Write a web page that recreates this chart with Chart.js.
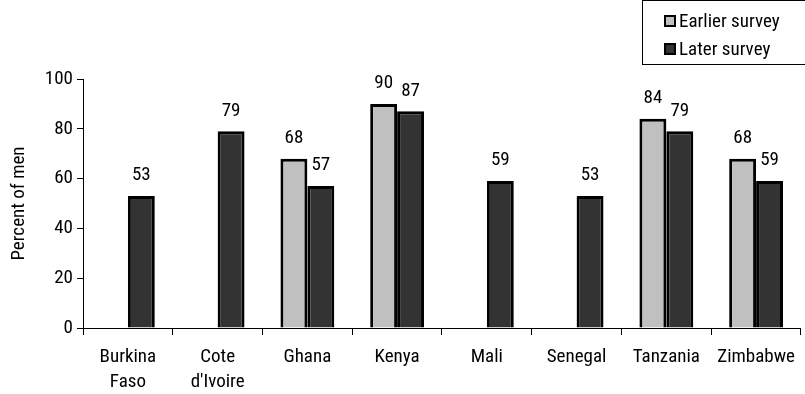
<!DOCTYPE html>
<html>
<head>
<meta charset="utf-8">
<script src="https://cdn.jsdelivr.net/npm/chart.js@4.4.1/dist/chart.umd.min.js"></script>
<style>
  html, body { margin: 0; padding: 0; background: #fff; }
  #wrap { position: relative; width: 805px; height: 394px; }
</style>
</head>
<body>
<div id="wrap"><canvas id="c" width="805" height="394"></canvas></div>
<script>
const categories = [["Burkina", "Faso"], ["Cote", "d'Ivoire"], "Ghana", "Kenya", "Mali", "Senegal", "Tanzania", "Zimbabwe"];
const earlierSurvey = [null, null, 68, 90, null, null, 84, 68];
const laterSurvey = [53, 79, 57, 87, 59, 53, 79, 59];
const seriesNames = ["Earlier survey", "Later survey"];
const yTicks = [0, 20, 40, 60, 80, 100];

const FONT = "'Liberation Sans Narrow', 'Arial Narrow', 'Roboto Condensed', 'Liberation Sans', sans-serif";
const FS = 19;
const LIGHT = '#c0c0c0';
const DARK = '#333333';

const valueLabels = {
  id: 'valueLabels',
  afterDatasetsDraw(chart) {
    const ctx = chart.ctx;
    ctx.save();
    ctx.font = FS + 'px ' + FONT;
    ctx.fillStyle = '#000';
    ctx.textAlign = 'center';
    ctx.textBaseline = 'bottom';
    chart.data.datasets.forEach((ds, i) => {
      const meta = chart.getDatasetMeta(i);
      meta.data.forEach((bar, j) => {
        const v = ds.data[j];
        if (v === null || v === undefined) return;
        ctx.fillText(String(v), bar.x, bar.y - 11);
      });
    });
    ctx.restore();
  }
};

const boxLegend = {
  id: 'boxLegend',
  afterDraw(chart) {
    const ctx = chart.ctx;
    ctx.save();
    ctx.strokeStyle = '#000';
    ctx.lineWidth = 1;
    ctx.fillStyle = '#fff';
    ctx.fillRect(642.5, 0.5, 170, 64);
    ctx.strokeRect(642.5, 0.5, 170, 64);
    ctx.font = FS + 'px ' + FONT;
    ctx.textAlign = 'left';
    ctx.textBaseline = 'middle';
    const rows = [21, 49];
    chart.data.datasets.forEach((ds, i) => {
      const y = rows[i];
      ctx.fillStyle = ds.backgroundColor;
      ctx.fillRect(665, y - 5, 10, 10);
      ctx.lineWidth = 2;
      ctx.strokeStyle = '#000';
      ctx.strokeRect(665, y - 5, 10, 10);
      ctx.fillStyle = '#000';
      ctx.fillText(ds.label, 679, y + 1);
    });
    ctx.restore();
  }
};

new Chart(document.getElementById('c'), {
  type: 'bar',
  data: {
    labels: categories,
    datasets: [
      { label: seriesNames[0], data: earlierSurvey, backgroundColor: LIGHT, borderColor: '#000', borderWidth: 3 },
      { label: seriesNames[1], data: laterSurvey, backgroundColor: DARK, borderColor: '#000', borderWidth: 3 }
    ]
  },
  options: {
    responsive: false,
    animation: false,
    devicePixelRatio: 1,
    layout: { padding: { top: 79, left: 0, right: 1, bottom: 0 } },
    datasets: { bar: { barPercentage: 1.0, categoryPercentage: 0.6 } },
    plugins: {
      legend: { display: false },
      title: { display: false },
      tooltip: { enabled: false }
    },
    scales: {
      x: {
        grid: { display: true, offset: true, drawOnChartArea: false, drawTicks: true, tickLength: 7, color: '#000', lineWidth: 1 },
        border: { display: true, color: '#000', width: 1 },
        ticks: { color: '#000', font: { family: FONT, size: FS, lineHeight: 1.3 }, padding: 10, maxRotation: 0, autoSkip: false },
        afterFit(scale) { scale.height = 66; }
      },
      y: {
        min: 0,
        max: 100,
        afterBuildTicks(scale) { scale.ticks = yTicks.map(v => ({ value: v })); },
        grid: { display: true, drawOnChartArea: false, drawTicks: true, tickLength: 6, color: '#000', lineWidth: 1 },
        border: { display: true, color: '#000', width: 1 },
        ticks: { color: '#000', font: { family: FONT, size: FS }, padding: 4 },
        title: { display: true, text: 'Percent of men', color: '#000', font: { family: FONT, size: FS }, padding: { top: 8, bottom: 0 } },
        afterFit(scale) { scale.width = 83; }
      }
    }
  },
  plugins: [valueLabels, boxLegend]
});
</script>
</body>
</html>
